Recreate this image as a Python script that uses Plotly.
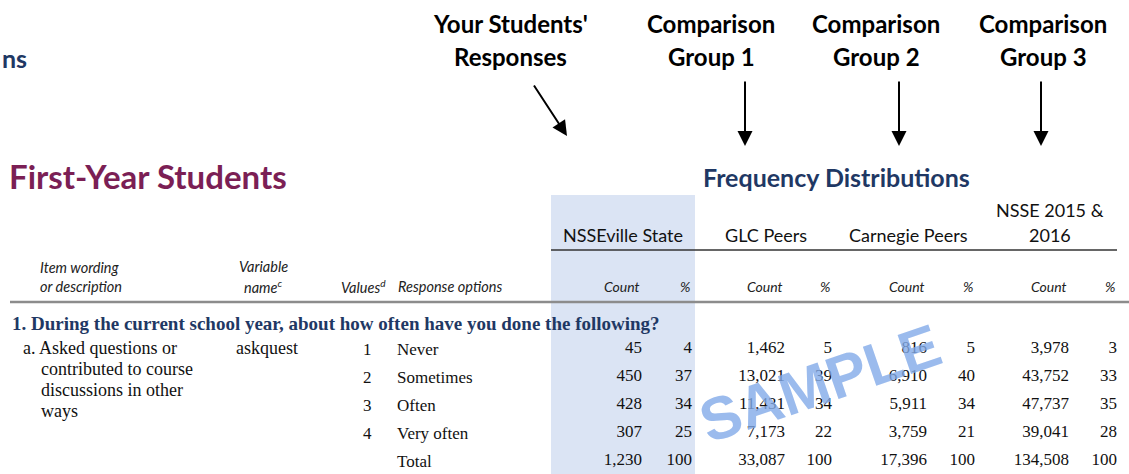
import plotly.graph_objects as go

# ---------------- data ----------------
response_options = ["Never", "Sometimes", "Often", "Very often", "Total"]
response_values = ["1", "2", "3", "4", ""]
group_names = ["NSSEville State", "GLC Peers", "Carnegie Peers", "NSSE 2015 &", "2016"]
top_labels = [("Your Students'", "Responses"), ("Comparison", "Group 1"),
              ("Comparison", "Group 2"), ("Comparison", "Group 3")]

nsseville_count = [45, 450, 428, 307, 1230]
nsseville_pct = [4, 37, 34, 25, 100]
glc_count = [1462, 13021, 11431, 7173, 33087]
glc_pct = [5, 39, 34, 22, 100]
carnegie_count = [816, 6910, 5911, 3759, 17396]
carnegie_pct = [5, 40, 34, 21, 100]
nsse_count = [3978, 43752, 47737, 39041, 134508]
nsse_pct = [3, 33, 35, 28, 100]

question = "1. During the current school year, about how often have you done the following?"
item_lines = ["a. Asked questions or", "contributed to course", "discussions in other", "ways"]
var_name = "askquest"

# ---------------- layout constants (pixels) ----------------
W, H = 1129, 474
row_y = [349, 377, 405, 433, 461]
count_right = [642, 785, 927, 1069]
pct_right = [692, 832, 975, 1117]
group_center = [623, 766, 908, 1050]
top_center = [510, 711, 876, 1043]

NAVY = "#1f3864"
MAROON = "#7b1f55"
SANS = "Lato"
SERIF = "Liberation Serif"

counts = [nsseville_count, glc_count, carnegie_count, nsse_count]
pcts = [nsseville_pct, glc_pct, carnegie_pct, nsse_pct]

fig = go.Figure()

# numeric cells as text traces
for g in range(4):
    fig.add_trace(go.Scatter(
        x=[count_right[g]] * len(counts[g]), y=row_y,
        text=[f"{v:,}" for v in counts[g]], mode="text", textposition="middle left",
        textfont=dict(family=SERIF, size=17, color="#111"), hoverinfo="skip", showlegend=False))
    fig.add_trace(go.Scatter(
        x=[pct_right[g]] * len(pcts[g]), y=row_y,
        text=[str(v) for v in pcts[g]], mode="text", textposition="middle left",
        textfont=dict(family=SERIF, size=17, color="#111"), hoverinfo="skip", showlegend=False))

shapes = []
shapes.append(dict(type="rect", xref="x", yref="y", x0=551, x1=695, y0=195, y1=H,
                   fillcolor="#dbe4f4", line=dict(width=0), layer="below"))
shapes.append(dict(type="line", xref="x", yref="y", x0=551, x1=1117, y0=250, y1=250,
                   line=dict(color="#333333", width=1.5)))
shapes.append(dict(type="line", xref="x", yref="y", x0=10, x1=W, y0=302, y1=302,
                   line=dict(color="#8c8c8c", width=2.5)))

ann = []
def txt(x, y, s, size, color="#000", family=SANS, anchor="left", bold=False, italic=False):
    if bold:
        s = f"<b>{s}</b>"
    if italic:
        s = f"<i>{s}</i>"
    ann.append(dict(x=x, y=y, xref="x", yref="y", text=s, showarrow=False,
                    xanchor=anchor, yanchor="middle",
                    font=dict(family=family, size=size, color=color)))

txt(0, 58, "ns", 25, NAVY, bold=True)
for c, (l1, l2) in zip(top_center, top_labels):
    txt(c, 23, l1, 24, "#000", anchor="center", bold=True)
    txt(c, 56, l2, 24, "#000", anchor="center", bold=True)

arrow_specs = [((567, 136), (533, 84)), ((745, 146), (745, 80)), ((899, 146), (899, 80)), ((1041, 146), (1041, 80))]
for (hx, hy), (tx, ty) in arrow_specs:
    ann.append(dict(x=hx, y=hy, ax=tx, ay=ty, xref="x", yref="y", axref="x", ayref="y",
                    text="", showarrow=True, arrowhead=2, arrowsize=1.5, arrowwidth=2,
                    arrowcolor="#000", standoff=0, startstandoff=0))

txt(7, 176, "First-Year Students", 33, MAROON, bold=True)
txt(836, 177, "Frequency Distributions", 25, NAVY, anchor="center", bold=True)

for g in range(3):
    txt(group_center[g], 235, group_names[g], 18, "#111", anchor="center")
txt(group_center[3], 210, group_names[3], 18, "#111", anchor="center")
txt(group_center[3], 235, group_names[4], 18, "#111", anchor="center")

txt(38, 267, "Item wording", 14.5, "#222", italic=True)
txt(38, 286, "or description", 14.5, "#222", italic=True)
txt(263, 266, "Variable", 14.5, "#222", anchor="center", italic=True)
txt(263, 286, "name<sup>c</sup>", 14.5, "#222", anchor="center", italic=True)
txt(388, 286, "Values<sup>d</sup>", 14.5, "#222", anchor="right", italic=True)
txt(396, 286, "Response options", 14.5, "#222", italic=True)
for g in range(4):
    txt(count_right[g], 286, "Count", 14, "#222", anchor="right", italic=True)
    txt(pct_right[g], 286, "%", 14, "#222", anchor="right", italic=True)

txt(10, 323, question, 19, NAVY, family=SERIF, bold=True)

txt(21, 348, item_lines[0], 18, "#111", family=SERIF)
for i, line in enumerate(item_lines[1:]):
    txt(39, 369 + 21 * i, line, 18, "#111", family=SERIF)
txt(234, 348, var_name, 18, "#111", family=SERIF)
for y, v, r in zip(row_y, response_values, response_options):
    txt(367, y, v, 17, "#111", family=SERIF, anchor="center")
    txt(395, y, r, 17, "#111", family=SERIF)

ann.append(dict(x=820, y=383, xref="x", yref="y", text="<b>SAMPLE</b>", showarrow=False,
                textangle=-19, xanchor="center", yanchor="middle",
                font=dict(family="Liberation Sans", size=60, color="rgba(130,170,232,0.8)")))

fig.update_layout(
    width=W, height=H, margin=dict(l=0, r=0, t=0, b=0),
    paper_bgcolor="white", plot_bgcolor="white",
    xaxis=dict(range=[0, W], visible=False, fixedrange=True),
    yaxis=dict(range=[H, 0], visible=False, fixedrange=True),
    shapes=shapes, annotations=ann, showlegend=False,
)
fig.write_html("out.html", config={"displayModeBar": False},
               post_script="document.body.style.margin='0px';")
